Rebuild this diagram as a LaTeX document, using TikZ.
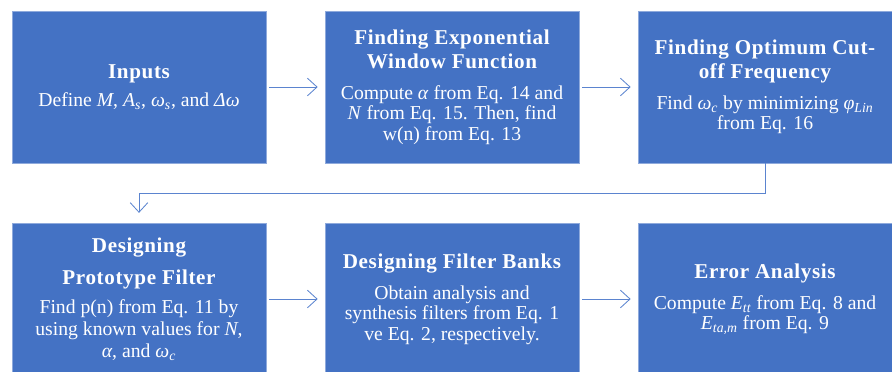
\documentclass[tikz,border=0pt]{standalone}
\usepackage{fontspec}
\setmainfont{Liberation Serif}
\usetikzlibrary{arrows.meta}

\definecolor{boxblue}{HTML}{4472C4}
\definecolor{boxrim}{HTML}{8FAADC}
\definecolor{lineblue}{HTML}{5B84CF}

\newcommand{\ivar}[1]{\textit{#1}}
\newcommand{\lowidx}[1]{\textsubscript{\textit{#1}}}
\newcommand{\boxhead}[1]{{\fontsize{15}{17}\selectfont\bfseries\addfontfeatures{LetterSpace=3}#1}}

\tikzset{
    stepbox/.style={draw=boxrim, line width=0.4pt, fill=boxblue, text=white,
        minimum width=6.35cm, minimum height=3.8cm, align=center,
        font=\fontsize{14}{14.5}\selectfont, inner sep=2pt},
    flow/.style={draw=lineblue, line width=0.6pt,
        -{Straight Barb[length=2.4mm, width=4.4mm]}}
}

\begin{document}
\begin{tikzpicture}[x=0.025cm, y=-0.025cm]
    
    \useasboundingbox (0,0) rectangle (892,371);
    \clip (0,0) rectangle (892,371);
    
    % Top row
    \node[stepbox] (inputs) at (139,87)
        {\boxhead{Inputs}\\[5.5pt]
         Define \ivar{M}, \ivar{A}\lowidx{s}, \ivar{ω}\lowidx{s}, and \ivar{Δω}};
    \node[stepbox] (window) at (452,87)
        {\boxhead{Finding Exponential}\\[2.5pt] \boxhead{Window Function}\\[7.5pt]
         Compute \ivar{α} from Eq. 14 and\\
         \ivar{N} from Eq. 15. Then, find\\
         w(n) from Eq. 13};
    \node[stepbox] (optimum) at (765,87)
        {\boxhead{Finding Optimum Cut-}\\[2.5pt] \boxhead{off Frequency}\\[7.5pt]
         Find \ivar{ω}\lowidx{c} by minimizing \ivar{φ}\lowidx{Lin}\\
         from Eq. 16};
    
    % Bottom row
    \node[stepbox] (prototype) at (139,299)
        {\boxhead{Designing}\\[8pt] \boxhead{Prototype Filter}\\[6.5pt]
         Find p(n) from Eq. 11 by\\[1pt]
         using known values for \ivar{N},\\[1pt]
         \ivar{α}, and \ivar{ω}\lowidx{c}};
    \node[stepbox] (banks) at (452,299)
        {\boxhead{Designing Filter Banks}\\[7.5pt]
         Obtain analysis and\\
         synthesis filters from Eq. 1\\
         ve Eq. 2, respectively.};
    \node[stepbox] (error) at (765,299)
        {\boxhead{Error Analysis}\\[7.5pt]
         Compute \ivar{E}\lowidx{tt} from Eq. 8 and\\
         \ivar{E}\lowidx{ta,m} from Eq. 9};
    
    % Connectors
    \coordinate (turn) at (765,193);
    \draw[flow, shorten <=2pt, shorten >=5pt] (inputs) -- (window);
    \draw[flow, shorten <=2pt, shorten >=5pt] (window) -- (optimum);
    \draw[flow, shorten >=7pt] (optimum) -- (turn) -| (prototype);
    \draw[flow, shorten <=2pt, shorten >=5pt] (prototype) -- (banks);
    \draw[flow, shorten <=2pt, shorten >=5pt] (banks) -- (error);
    
\end{tikzpicture}
\end{document}
